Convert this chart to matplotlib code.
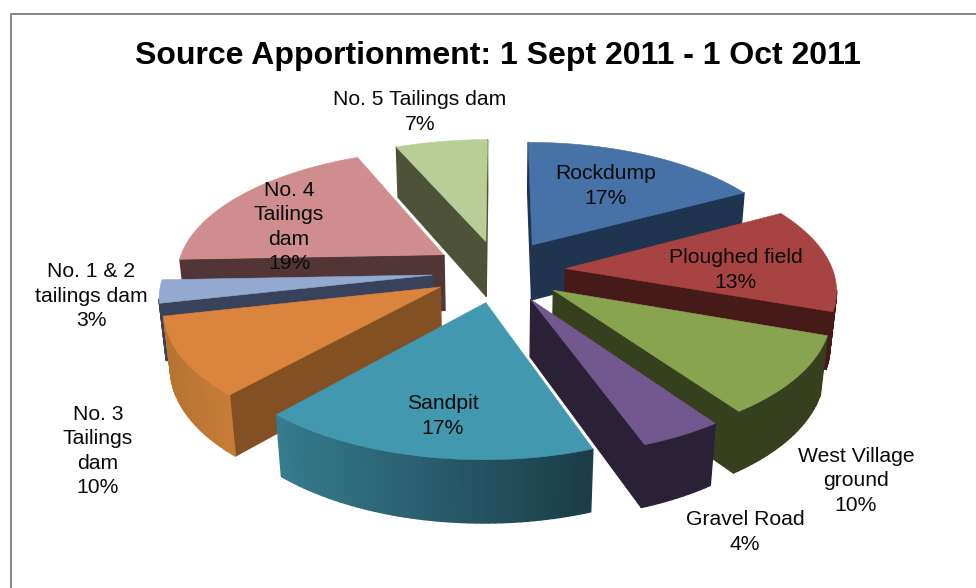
import numpy as np
import matplotlib
matplotlib.use("Agg")
import matplotlib.pyplot as plt
from matplotlib.collections import PolyCollection
from matplotlib.colors import to_rgb

plt.rcParams['font.family'] = ['Liberation Sans', 'DejaVu Sans']

# ---- data ----
TITLE = "Source Apportionment: 1 Sept 2011 - 1 Oct 2011"
sources = ["Rockdump", "Ploughed field", "West Village\nground", "Gravel Road", "Sandpit",
           "No. 3\nTailings\ndam", "No. 1 & 2\ntailings dam", "No. 4\nTailings\ndam", "No. 5 Tailings dam"]
shares = [17.1, 13.3, 9.9, 4.2, 17.1, 9.9, 2.9, 19.1, 6.5]

# ---- styles ----
top_colors = ["#4672A8", "#A74442", "#89A44E", "#71588F", "#4198AF", "#DB843D", "#93A9CF", "#CF8E8D", "#B9CD96"]
wall_colors = ["#1F344F", "#451A18", "#363F1E", "#2B2136", "#2A5F6F", "#835023", "#38425A", "#523637", "#4D5239"]
arc_left = ["#1F344F", "#451A18", "#363F1E", "#2B2136", "#367B8E", "#B87331", "#38425A", "#523637", "#4D5239"]
arc_right = ["#1F344F", "#451A18", "#363F1E", "#2B2136", "#1A3C47", "#C67C37", "#38425A", "#523637", "#4D5239"]
draw_order = [8, 0, 7, 1, 6, 2, 5, 3, 4]
label_xy = [(606, 186), (736, 270), (856, 481), (745, 532), (443, 416),
            (98, 451), (91, 296), (289, 227), (420, 112)]

# ---- projection of the exploded 3-D pie to pixels ----
CX, CY, F, A, Q, H, RZ, EXPLODE = 499, 271, 267.5, 124.4, 0.1438, 57, 0.02, 0.25


def project(x, y, z):
    w = 1 + Q * y + RZ * z
    return CX + F * x / w, CY + (-A * y + H * z) / w


edges = np.radians(np.cumsum([0] + shares) / sum(shares) * 360)

fig = plt.figure(figsize=(9.76, 5.88), dpi=100)
ax = fig.add_axes([0, 0, 1, 1])
ax.set_xlim(0, 976)
ax.set_ylim(588, 0)
ax.axis("off")

# frame
ax.plot([10.5, 10.5, 976], [588, 13.5, 13.5], color="#868686", lw=1.4, solid_capstyle="butt")


def mix(c1, c2, t):
    a, b = np.array(to_rgb(c1)), np.array(to_rgb(c2))
    return tuple(a + (b - a) * t)


for i in draw_order:
    a0, a1 = edges[i], edges[i + 1]
    mid = (a0 + a1) / 2
    ox, oy = EXPLODE * np.sin(mid), EXPLODE * np.cos(mid)
    t = np.linspace(a0, a1, max(12, int((a1 - a0) * 50)))
    wx = np.concatenate([[ox], ox + np.sin(t), [ox]])
    wy = np.concatenate([[oy], oy + np.cos(t), [oy]])
    tx, ty = project(wx, wy, 0)
    bx, by = project(wx, wy, 1)

    polys, cols = [], []
    arc_xmin, arc_xmax = tx[1:-1].min(), tx[1:-1].max()
    for k in range(len(tx) - 1):
        if tx[k + 1] < tx[k]:  # wall faces the viewer
            polys.append([(tx[k], ty[k]), (tx[k + 1], ty[k + 1]), (bx[k + 1], by[k + 1]), (bx[k], by[k])])
            if k == 0 or k == len(tx) - 2:
                cols.append(to_rgb(wall_colors[i]))
            else:
                frac = ((tx[k] + tx[k + 1]) / 2 - arc_xmin) / max(arc_xmax - arc_xmin, 1)
                cols.append(mix(arc_left[i], arc_right[i], frac))
    if polys:
        ax.add_collection(PolyCollection(polys, facecolors=cols, edgecolors=cols, linewidths=1.0))
    ax.fill(tx, ty, facecolor=top_colors[i], edgecolor=top_colors[i], lw=0.4)

ax.text(498, 56, TITLE, ha="center", va="center", fontsize=23, fontweight="bold", color="black")

for name, val, (lx, ly) in zip(sources, shares, label_xy):
    ax.text(lx, ly, f"{name}\n{int(val + 0.5)}%", ha="center", va="center", fontsize=15.2,
            color="#0a0a0a", linespacing=1.34)

fig.savefig("out.png", dpi=100)
